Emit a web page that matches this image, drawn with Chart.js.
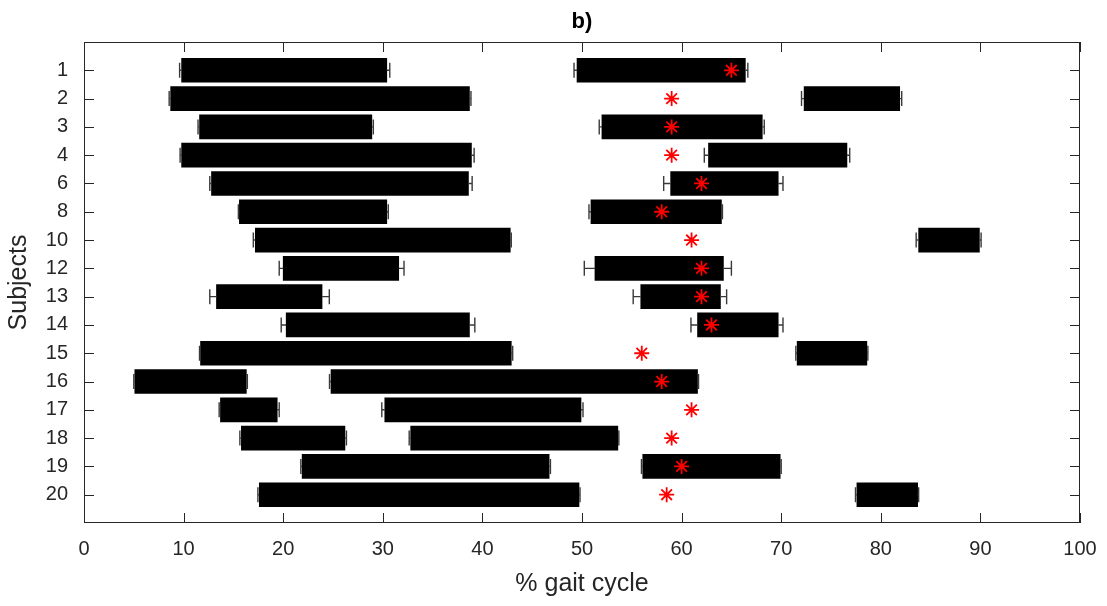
<!DOCTYPE html>
<html>
<head>
<meta charset="utf-8">
<script src="https://cdn.jsdelivr.net/npm/chart.js@4/dist/chart.umd.min.js"></script>
<style>
  html, body { margin: 0; padding: 0; background: #fff; }
  #wrap { width: 1107px; height: 606px; }
</style>
</head>
<body>
<div id="wrap"><canvas id="chart"></canvas></div>
<script>
// subjects shown on the y axis, top to bottom
const subjects = [1, 2, 3, 4, 6, 8, 10, 12, 13, 14, 15, 16, 17, 18, 19, 20]

// first activity burst (% gait cycle) and sd of its on / off points
const firstStart   = [9.8, 8.7, 11.6, 9.8, 12.8, 15.6, 17.2, 20.0, 13.3, 20.3, 11.7, 5.1, 13.7, 15.8, 21.9, 17.6]
const firstEnd     = [30.4, 38.7, 28.9, 38.9, 38.6, 30.4, 42.8, 31.6, 23.9, 38.7, 42.9, 16.3, 19.4, 26.2, 46.7, 49.7]
const firstStartSd = [0.2, 0.15, 0.15, 0.15, 0.17, 0.1, 0.2, 0.4, 0.67, 0.5, 0.1, 0.1, 0.13, 0.15, 0.13, 0.14]
const firstEndSd   = [0.3, 0.15, 0.15, 0.27, 0.37, 0.15, 0.1, 0.53, 0.73, 0.54, 0.14, 0.1, 0.2, 0.15, 0.13, 0.1]

// second activity burst
const secondStart   = [49.5, 72.3, 52.0, 62.7, 58.9, 50.9, 83.8, 51.3, 55.9, 61.6, 71.6, 24.8, 30.2, 32.8, 56.1, 77.6]
const secondEnd     = [66.4, 81.9, 68.1, 76.6, 69.7, 64.0, 89.9, 64.2, 63.9, 69.7, 78.6, 61.6, 49.9, 53.6, 69.9, 83.7]
const secondStartSd = [0.3, 0.26, 0.27, 0.42, 0.7, 0.2, 0.25, 1.07, 0.76, 0.66, 0.13, 0.15, 0.3, 0.15, 0.13, 0.14]
const secondEndSd   = [0.25, 0.2, 0.2, 0.28, 0.48, 0.1, 0.17, 0.8, 0.62, 0.48, 0.1, 0.1, 0.2, 0.1, 0.1, 0.1]

// toe-off instant per subject
const toeOff = [65, 59, 59, 59, 62, 58, 61, 62, 62, 63, 56, 58, 61, 59, 60, 58.5]

const xTicks = [0, 10, 20, 30, 40, 50, 60, 70, 80, 90, 100]

const INK = '#262626'
const FONT = '"Liberation Sans", Arial, sans-serif'

function rows(start, end) {
  return subjects.map((s, i) => ({ x: [start[i], end[i]], y: i + 1 }))
}

// keep the plot box fixed, labels may hang over the edges
function noEdgePadding(scale) {
  scale.paddingLeft = 0
  scale.paddingRight = 0
  scale.paddingTop = 0
  scale.paddingBottom = 0
}

// whiskers + caps on the outer side of each burst
const errorBars = {
  id: 'errorBars',
  afterDatasetsDraw(chart) {
    const ctx = chart.ctx
    const xs = chart.scales.x
    const ys = chart.scales.y
    const capH = 7.5
    const sets = [
      [firstStart, firstEnd, firstStartSd, firstEndSd],
      [secondStart, secondEnd, secondStartSd, secondEndSd]
    ]
    ctx.save()
    ctx.strokeStyle = '#3a3a3a'
    ctx.lineWidth = 1.4
    sets.forEach(function (set) {
      for (let i = 0; i < subjects.length; i++) {
        let y = ys.getPixelForValue(i + 1)
        let ends = [[set[0][i], -set[2][i]], [set[1][i], set[3][i]]]
        ends.forEach(function (e) {
          let x0 = xs.getPixelForValue(e[0])
          let x1 = xs.getPixelForValue(e[0] + e[1])
          ctx.beginPath()
          ctx.moveTo(x0, y)
          ctx.lineTo(x1, y)
          ctx.moveTo(x1, y - capH)
          ctx.lineTo(x1, y + capH)
          ctx.stroke()
        })
      }
    })
    ctx.restore()
  }
}

// box round the plot with inward ticks on every side
const frame = {
  id: 'frame',
  afterDraw(chart) {
    const ctx = chart.ctx
    const a = chart.chartArea
    const xs = chart.scales.x
    const ys = chart.scales.y
    const len = 10
    ctx.save()
    ctx.strokeStyle = INK
    ctx.lineWidth = 1
    ctx.strokeRect(a.left + 0.5, a.top + 0.5, a.right - a.left - 1, a.bottom - a.top - 1)
    ctx.beginPath()
    xTicks.forEach(function (v) {
      let x = Math.round(xs.getPixelForValue(v)) + 0.5
      ctx.moveTo(x, a.bottom)
      ctx.lineTo(x, a.bottom - len)
      ctx.moveTo(x, a.top)
      ctx.lineTo(x, a.top + len)
    })
    subjects.forEach(function (s, i) {
      let y = Math.round(ys.getPixelForValue(i + 1)) + 0.5
      ctx.moveTo(a.left, y)
      ctx.lineTo(a.left + len, y)
      ctx.moveTo(a.right, y)
      ctx.lineTo(a.right - len, y)
    })
    ctx.stroke()
    ctx.restore()
  }
}

new Chart(document.getElementById('chart'), {
  type: 'bar',
  data: {
    datasets: [
      {
        type: 'scatter',
        data: toeOff.map((v, i) => ({ x: v, y: i + 1 })),
        pointStyle: 'star',
        radius: 7.5,
        borderColor: '#ff0000',
        backgroundColor: '#ff0000',
        borderWidth: 1.8,
        order: 0
      },
      {
        data: rows(firstStart, firstEnd),
        backgroundColor: '#000',
        barThickness: 24,
        grouped: false,
        order: 1
      },
      {
        data: rows(secondStart, secondEnd),
        backgroundColor: '#000',
        barThickness: 24,
        grouped: false,
        order: 1
      }
    ]
  },
  options: {
    indexAxis: 'y',
    responsive: true,
    maintainAspectRatio: false,
    animation: false,
    layout: { padding: { left: 0, right: 27, top: 0, bottom: 0 } },
    plugins: {
      legend: { display: false },
      tooltip: { enabled: false }
    },
    scales: {
      x: {
        type: 'linear',
        min: 0,
        max: 100,
        afterBuildTicks: function (scale) {
          scale.ticks = xTicks.map(v => ({ value: v }))
        },
        afterFit: function (scale) {
          scale.height = 83
          noEdgePadding(scale)
        },
        grid: { display: false, drawTicks: false },
        border: { display: false },
        ticks: { color: INK, padding: 14, maxRotation: 0, font: { family: FONT, size: 20 } },
        title: {
          display: true,
          text: '% gait cycle',
          color: INK,
          font: { family: FONT, size: 25, lineHeight: 1.2 },
          padding: { top: 0, bottom: 7 }
        }
      },
      // top axis only carries the panel label
      top: {
        type: 'linear',
        position: 'top',
        axis: 'x',
        min: 0,
        max: 100,
        afterFit: function (scale) {
          scale.height = 42
          noEdgePadding(scale)
        },
        grid: { display: false, drawTicks: false },
        border: { display: false },
        ticks: { display: false },
        title: {
          display: true,
          text: 'b)',
          color: '#000',
          font: { family: FONT, size: 22, weight: 'bold', lineHeight: 1.2 },
          padding: { top: 9, bottom: 0 }
        }
      },
      y: {
        type: 'linear',
        min: 0,
        max: subjects.length + 1,
        reverse: true,
        offset: false,
        afterBuildTicks: function (scale) {
          scale.ticks = subjects.map((s, i) => ({ value: i + 1 }))
        },
        afterFit: function (scale) {
          scale.width = 84
          noEdgePadding(scale)
        },
        grid: { display: false, drawTicks: false },
        border: { display: false },
        ticks: {
          color: INK,
          padding: 16,
          font: { family: FONT, size: 20 },
          callback: function (v) { return subjects[v - 1] }
        },
        title: {
          display: true,
          text: 'Subjects',
          color: INK,
          font: { family: FONT, size: 25, lineHeight: 1.2 },
          padding: { top: 4, bottom: 0 }
        }
      }
    }
  },
  plugins: [errorBars, frame]
})
</script>
</body>
</html>
